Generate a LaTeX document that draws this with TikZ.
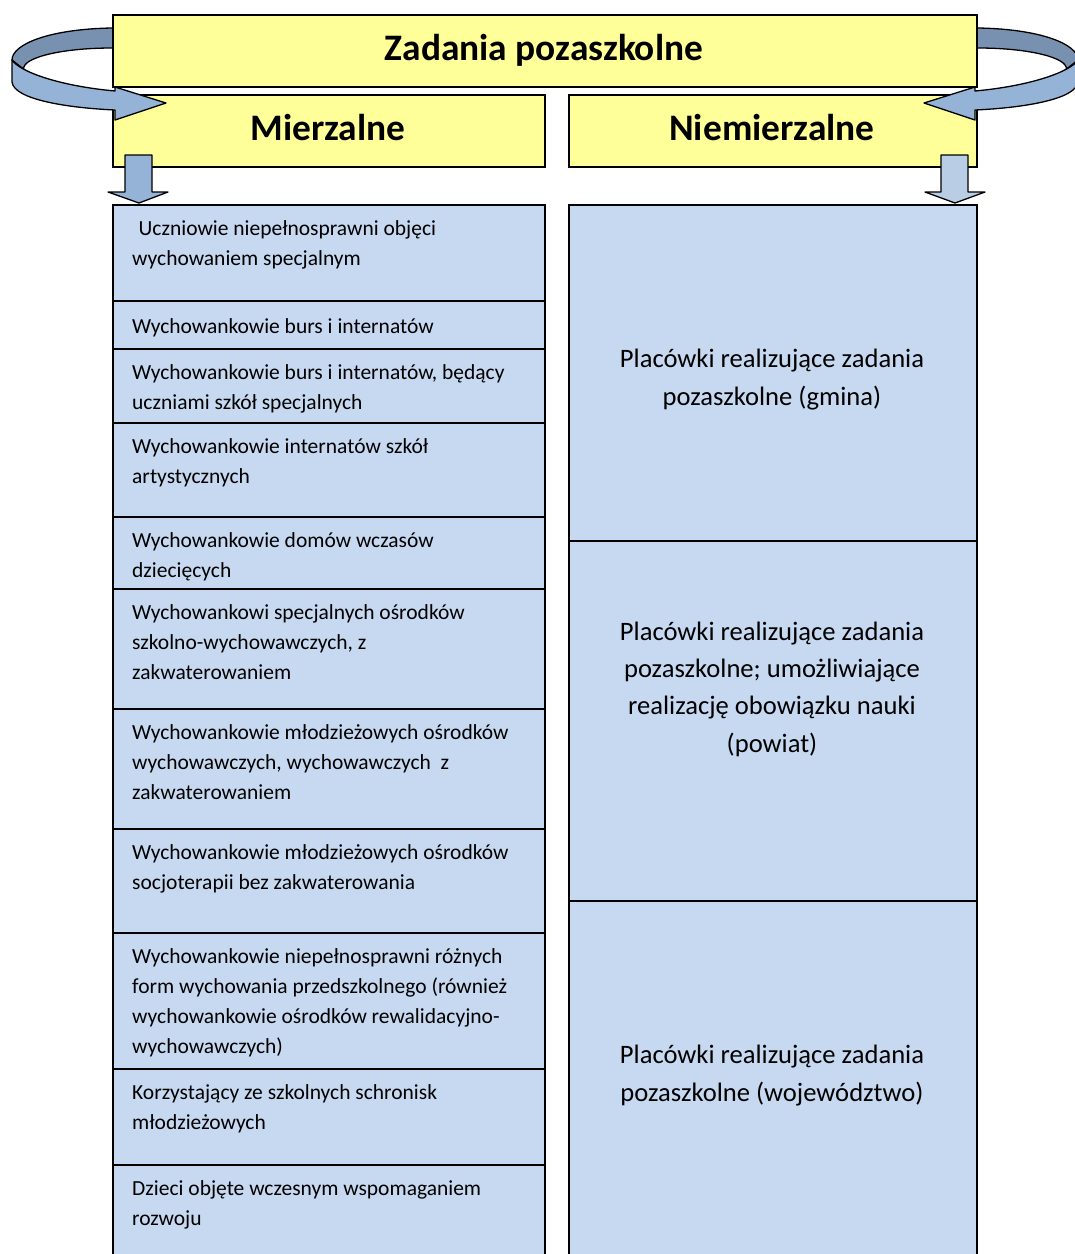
\documentclass[tikz,border=0pt]{standalone}
\usepackage{fontspec}
\setmainfont{Carlito}
\definecolor{yel}{HTML}{FFFF99}
\definecolor{cell}{HTML}{C6D9F1}
\definecolor{arrlight}{HTML}{95B3D7}
\definecolor{arrdark}{HTML}{7891B1}
\definecolor{arrpale}{HTML}{B9CDE5}
\begin{document}
\begin{tikzpicture}[x=1pt,y=-1pt,
  ybox/.style={draw=black, line width=1.6pt, fill=yel, rectangle, inner sep=0, anchor=north west},
  cellbox/.style={draw=black, line width=1.6pt, fill=cell, rectangle, inner sep=0, anchor=north west, minimum width=#1},
  ltext/.style={anchor=base west, align=left, inner sep=0, font=\fontsize{21.5}{30}\selectfont},
  rtext/.style={anchor=base, align=center, inner sep=0, font=\fontsize{26.6}{37.3}\selectfont},
  htext/.style={anchor=base, inner sep=0, font=\bfseries\fontsize{37.4}{44}\selectfont},
  band/.style={draw=black, line width=1.3pt, line join=round}
]
\useasboundingbox (0,0) rectangle (1075,1254);
\clip (0,0) rectangle (1075,1254);
% curved arrows: back (dark) part
\foreach \sx/\ox in {1/0, -1/1090}{
\begin{scope}[shift={(\ox,0)}, xscale=\sx]
  \draw[band, fill=arrdark] (125,28) -- (112,28) .. controls (50,29) and (12,44) .. (12,60)
     -- (23.7,69.2) .. controls (22,58) and (60,48) .. (112,48) -- (125,48);
\end{scope}}
% header boxes
\node[ybox, minimum width=864, minimum height=72] (top) at (112,14) {};
\node[ybox, minimum width=432, minimum height=72] (mie) at (112,94) {};
\node[ybox, minimum width=408, minimum height=72] (nie) at (568,94) {};
\node[htext] (topt) at (544,60) {Zadania pozaszkolne};
\node[htext] (miet) at (328,140) {Mierzalne};
\node[htext] (niet) at (772,140) {Niemierzalne};
% curved arrows: front (light) part with head
\foreach \sx/\ox in {1/0, -1/1090}{
\begin{scope}[shift={(\ox,0)}, xscale=\sx]
  \draw[band, fill=arrlight] (12,60) -- (12,82) .. controls (14,100) and (70,108) .. (115,110)
     -- (115,120) -- (166,103) -- (115,87) -- (115,91) .. controls (60,86) and (20,72) .. (12,60) -- cycle;
\end{scope}}
% left column cells
\node[cellbox=432, minimum height=96]  (l1)  at (112,204) {};
\node[cellbox=432, minimum height=48]  (l2)  at (112,300) {};
\node[cellbox=432, minimum height=74]  (l3)  at (112,348) {};
\node[cellbox=432, minimum height=94]  (l4)  at (112,422) {};
\node[cellbox=432, minimum height=72]  (l5)  at (112,516) {};
\node[cellbox=432, minimum height=120] (l6)  at (112,588) {};
\node[cellbox=432, minimum height=120] (l7)  at (112,708) {};
\node[cellbox=432, minimum height=104] (l8)  at (112,828) {};
\node[cellbox=432, minimum height=136] (l9)  at (112,932) {};
\node[cellbox=432, minimum height=96]  (l10) at (112,1068) {};
\node[cellbox=432, minimum height=126] (l11) at (112,1164) {};
% right column cells
\node[cellbox=408, minimum height=336] (r1) at (568,204) {};
\node[cellbox=408, minimum height=360] (r2) at (568,540) {};
\node[cellbox=408, minimum height=390] (r3) at (568,900) {};
% down arrows
\draw[band, fill=arrlight] (125,155) -- (152,155) -- (152,192) -- (168,192) -- (139,203) -- (108,192) -- (125,192) -- cycle;
\draw[band, fill=arrpale] (941,155) -- (968,155) -- (968,192) -- (985,192) -- (955,203) -- (925,192) -- (941,192) -- cycle;
% left texts (anchor = baseline of last line)
\node[ltext] (t1)  at (132,265)  {\hspace*{0.3em}Uczniowie niepełnosprawni objęci\\wychowaniem specjalnym};
\node[ltext] (t2)  at (132,333)  {Wychowankowie burs i internatów};
\node[ltext] (t3)  at (132,409)  {Wychowankowie burs i internatów, będący\\uczniami szkół specjalnych};
\node[ltext] (t4)  at (132,483)  {Wychowankowie internatów szkół\\artystycznych};
\node[ltext] (t5)  at (132,577)  {Wychowankowie domów wczasów\\dziecięcych};
\node[ltext] (t6)  at (132,679)  {Wychowankowi specjalnych ośrodków\\szkolno-wychowawczych, z\\zakwaterowaniem};
\node[ltext] (t7)  at (132,799)  {Wychowankowie młodzieżowych ośrodków\\wychowawczych, wychowawczych~ z\\zakwaterowaniem};
\node[ltext] (t8)  at (132,889)  {Wychowankowie młodzieżowych ośrodków\\socjoterapii bez zakwaterowania};
\node[ltext] (t9)  at (132,1053) {Wychowankowie niepełnosprawni różnych\\form wychowania przedszkolnego (również\\wychowankowie ośrodków rewalidacyjno-\\wychowawczych)};
\node[ltext] (t10) at (132,1129) {Korzystający ze szkolnych schronisk\\młodzieżowych};
\node[ltext] (t11) at (132,1225) {Dzieci objęte wczesnym wspomaganiem\\rozwoju};
% right texts (anchor = baseline of last line)
\node[rtext] (s1) at (772,405)  {Placówki realizujące zadania\\pozaszkolne (gmina)};
\node[rtext] (s2) at (772,752)  {Placówki realizujące zadania\\pozaszkolne; umożliwiające\\realizację obowiązku nauki\\(powiat)};
\node[rtext] (s3) at (772,1101) {Placówki realizujące zadania\\pozaszkolne (województwo)};
\end{tikzpicture}
\end{document}
